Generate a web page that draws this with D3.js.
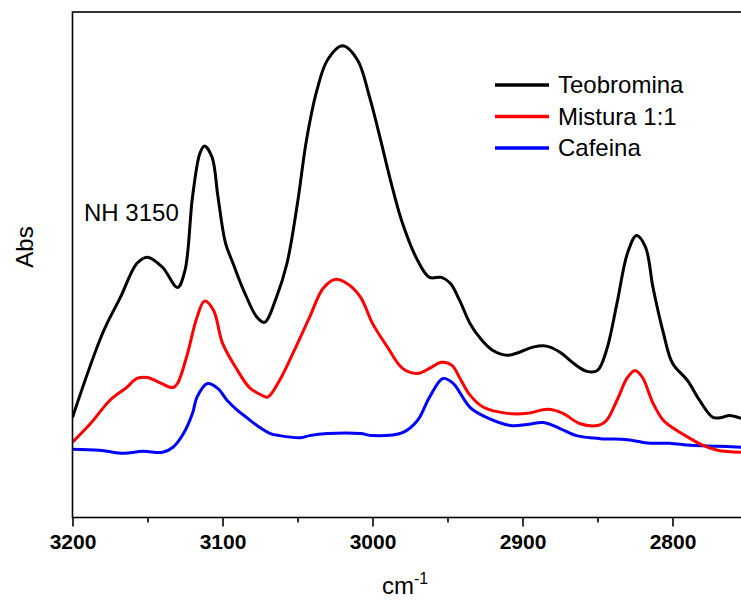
<!DOCTYPE html>
<html>
<head>
    <meta charset="utf-8">
    <script src="https://d3js.org/d3.v7.min.js"></script>
    <style>
        body { margin: 0; background: #fff; }
        text { font-family: Arial, "Liberation Sans", sans-serif; }
    </style>
</head>
<body>
    <svg id="chart" width="741" height="600"></svg>
    <script>
        // wavenumber (cm-1), absorbance (arbitrary units)
        var teobrominaX = [3200, 3180, 3168, 3157, 3150, 3140, 3130, 3125, 3120, 3115, 3112, 3107, 3103, 3098, 3093, 3086, 3077, 3072, 3064, 3057, 3050, 3044, 3037, 3030, 3020, 3010, 3002, 2995, 2988, 2980, 2970, 2962, 2954, 2948, 2942, 2935, 2928, 2920, 2910, 2902, 2893, 2884, 2875, 2866, 2857, 2850, 2844, 2837, 2830, 2824, 2818, 2813, 2806, 2800, 2790, 2782, 2773, 2767, 2762, 2754];
        var teobrominaY = [0.198, 0.364, 0.436, 0.503, 0.515, 0.495, 0.455, 0.489, 0.634, 0.721, 0.735, 0.713, 0.634, 0.543, 0.503, 0.450, 0.396, 0.386, 0.436, 0.503, 0.622, 0.747, 0.846, 0.905, 0.933, 0.905, 0.832, 0.752, 0.667, 0.582, 0.509, 0.475, 0.475, 0.463, 0.430, 0.384, 0.354, 0.331, 0.321, 0.327, 0.337, 0.339, 0.327, 0.305, 0.289, 0.291, 0.331, 0.424, 0.523, 0.558, 0.535, 0.455, 0.364, 0.305, 0.271, 0.232, 0.198, 0.198, 0.202, 0.196];

        var misturaX = [3200, 3188, 3175, 3164, 3157, 3150, 3142, 3133, 3130, 3124, 3117, 3112, 3106, 3100, 3090, 3082, 3074, 3070, 3062, 3053, 3042, 3033, 3025, 3017, 3008, 3000, 2990, 2980, 2970, 2962, 2954, 2947, 2942, 2935, 2926, 2910, 2897, 2883, 2873, 2862, 2850, 2844, 2837, 2830, 2825, 2820, 2813, 2806, 2797, 2788, 2780, 2770, 2754];
        var misturaY = [0.149, 0.186, 0.232, 0.257, 0.275, 0.277, 0.267, 0.257, 0.265, 0.317, 0.396, 0.428, 0.410, 0.345, 0.291, 0.257, 0.242, 0.238, 0.271, 0.325, 0.396, 0.453, 0.471, 0.463, 0.436, 0.384, 0.337, 0.295, 0.285, 0.295, 0.307, 0.301, 0.277, 0.242, 0.218, 0.206, 0.206, 0.214, 0.206, 0.186, 0.182, 0.192, 0.232, 0.277, 0.291, 0.277, 0.226, 0.192, 0.172, 0.156, 0.143, 0.133, 0.129];

        var cafeinaX = [3200, 3182, 3166, 3153, 3140, 3133, 3126, 3120, 3117, 3110, 3103, 3097, 3090, 3084, 3077, 3068, 3062, 3048, 3042, 3030, 3008, 3000, 2980, 2970, 2962, 2953, 2946, 2942, 2935, 2924, 2908, 2897, 2886, 2875, 2864, 2848, 2830, 2815, 2802, 2788, 2770, 2754];
        var cafeinaY = [0.135, 0.133, 0.127, 0.131, 0.129, 0.139, 0.166, 0.206, 0.238, 0.265, 0.255, 0.232, 0.212, 0.198, 0.182, 0.166, 0.162, 0.158, 0.162, 0.166, 0.166, 0.162, 0.168, 0.192, 0.238, 0.275, 0.265, 0.248, 0.218, 0.198, 0.182, 0.184, 0.188, 0.176, 0.162, 0.156, 0.154, 0.147, 0.147, 0.143, 0.141, 0.139];

        var seriesNames = ['Teobromina', 'Mistura 1:1', 'Cafeina'];
        var seriesColors = ['#000000', '#ff0000', '#0000ff'];
        var xTicks = [3200, 3100, 3000, 2900, 2800];
        var xMinorTicks = [3150, 3050, 2950, 2850];

        var svg = d3.select('#chart');

        // plot box (right side runs past the window edge)
        var pLeft = 72.5, pRight = 747.5, pTop = 12, pBottom = 517.5;

        var x = d3.scaleLinear()
            .domain([3200, 2750])
            .range([pLeft, pRight]);

        var y = d3.scaleLinear()
            .domain([0, 1])
            .range([pBottom, pTop]);

        svg.append('clipPath')
            .attr('id', 'clip')
            .append('rect')
            .attr('x', pLeft)
            .attr('y', pTop)
            .attr('width', pRight - pLeft)
            .attr('height', pBottom - pTop);

        var line = d3.line()
            .x(function(d) { return x(d[0]); })
            .y(function(d) { return y(d[1]); })
            .curve(d3.curveCatmullRom.alpha(0.5));

        var series = [
            d3.zip(teobrominaX, teobrominaY),
            d3.zip(misturaX, misturaY),
            d3.zip(cafeinaX, cafeinaY)
        ];

        // draw blue first, black on top
        [2, 1, 0].forEach(function(i) {
            svg.append('path')
                .datum(series[i])
                .attr('clip-path', 'url(#clip)')
                .attr('fill', 'none')
                .attr('stroke', seriesColors[i])
                .attr('stroke-width', 3)
                .attr('stroke-linejoin', 'round')
                .attr('d', line);
        });

        // frame
        svg.append('rect')
            .attr('x', pLeft)
            .attr('y', pTop)
            .attr('width', pRight - pLeft)
            .attr('height', pBottom - pTop)
            .attr('fill', 'none')
            .attr('stroke', '#000')
            .attr('stroke-width', 1.6);

        // bottom axis
        var xAxis = d3.axisBottom(x)
            .tickValues(xTicks)
            .tickSize(9)
            .tickPadding(8)
            .tickFormat(d3.format('d'));

        var gx = svg.append('g')
            .attr('transform', 'translate(0,' + pBottom + ')')
            .call(xAxis);
        gx.select('.domain').remove();
        gx.selectAll('line').attr('stroke', '#000').attr('stroke-width', 1.6);
        gx.selectAll('text')
            .attr('fill', '#000')
            .style('font-size', '21px')
            .style('font-weight', 'bold')
            .style('font-family', 'Arial, "Liberation Sans", sans-serif');

        var minor = d3.axisBottom(x)
            .tickValues(xMinorTicks)
            .tickSize(5)
            .tickFormat('');
        var gm = svg.append('g')
            .attr('transform', 'translate(0,' + pBottom + ')')
            .call(minor);
        gm.select('.domain').remove();
        gm.selectAll('line').attr('stroke', '#000').attr('stroke-width', 1.6);

        // axis titles
        var xt = svg.append('text')
            .attr('x', 405)
            .attr('y', 594)
            .attr('text-anchor', 'middle')
            .style('font-size', '24px')
            .text('cm');
        xt.append('tspan')
            .attr('dy', -10)
            .style('font-size', '16px')
            .text('-1');

        svg.append('text')
            .attr('transform', 'translate(33,247) rotate(-90)')
            .attr('text-anchor', 'middle')
            .style('font-size', '24px')
            .text('Abs');

        // annotation
        svg.append('text')
            .attr('x', 84)
            .attr('y', 221)
            .style('font-size', '24px')
            .text('NH 3150');

        // legend
        var legend = svg.append('g');
        seriesNames.forEach(function(name, i) {
            var ly = 85 + i * 31.5;
            legend.append('line')
                .attr('x1', 495)
                .attr('x2', 549)
                .attr('y1', ly)
                .attr('y2', ly)
                .attr('stroke', seriesColors[i])
                .attr('stroke-width', 3.5);
            legend.append('text')
                .attr('x', 558)
                .attr('y', ly + 8)
                .style('font-size', '24px')
                .text(name);
        });
    </script>
</body>
</html>
